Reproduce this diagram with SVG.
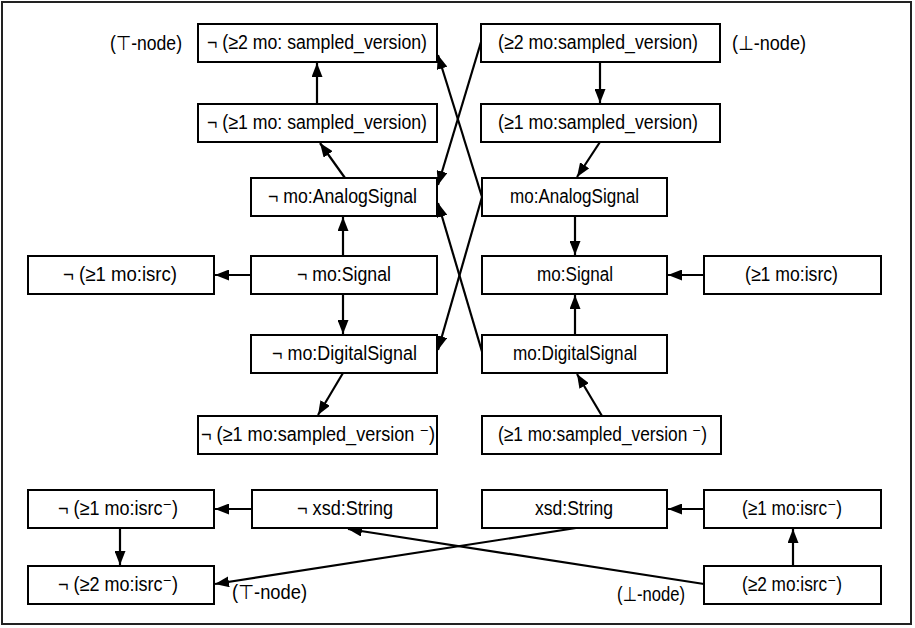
<svg xmlns="http://www.w3.org/2000/svg" width="915" height="628" viewBox="0 0 915 628">
<style>
  .box { fill: #ffffff; stroke: #000000; stroke-width: 2; }
  .t { font-family: "Liberation Sans", "DejaVu Sans", Arial, sans-serif; font-size: 20px; fill: #000000; text-anchor: middle; }
  .e { stroke: #000000; stroke-width: 2.2; fill: none; marker-end: url(#arr); }
</style>
<defs>
  <marker id="arr" markerUnits="userSpaceOnUse" markerWidth="14" markerHeight="11" refX="14" refY="5.5" orient="auto">
    <path d="M0,0 L14,5.5 L0,11 Z" fill="#000000"/>
  </marker>
</defs>
<rect x="0" y="0" width="915" height="628" fill="#ffffff"/>
<rect x="2" y="2" width="909" height="622" fill="none" stroke="#222222" stroke-width="2"/>

<g id="connectors">
  <line class="e" x1="317" y1="104" x2="317" y2="63"/>
  <line class="e" x1="345" y1="178" x2="320" y2="143"/>
  <line class="e" x1="481" y1="42" x2="438" y2="185"/>
  <line class="e" x1="482" y1="197" x2="438" y2="55"/>
  <line class="e" x1="482" y1="197" x2="438" y2="350"/>
  <line class="e" x1="483" y1="355" x2="438" y2="203"/>
  <line class="e" x1="343" y1="256" x2="343" y2="217"/>
  <line class="e" x1="251" y1="275" x2="215" y2="275"/>
  <line class="e" x1="343" y1="294" x2="343" y2="334"/>
  <line class="e" x1="343" y1="373" x2="318" y2="415"/>
  <line class="e" x1="600" y1="62" x2="600" y2="103"/>
  <line class="e" x1="600" y1="142" x2="577" y2="177"/>
  <line class="e" x1="575" y1="216" x2="575" y2="255"/>
  <line class="e" x1="704" y1="275" x2="668" y2="275"/>
  <line class="e" x1="575" y1="335" x2="575" y2="295"/>
  <line class="e" x1="602" y1="416" x2="577" y2="374"/>
  <line class="e" x1="252" y1="509" x2="215" y2="509"/>
  <line class="e" x1="120" y1="528" x2="120" y2="565"/>
  <line class="e" x1="576" y1="528" x2="215" y2="584"/>
  <line class="e" x1="704" y1="584" x2="348" y2="529"/>
  <line class="e" x1="704" y1="509" x2="668" y2="509"/>
  <line class="e" x1="793" y1="566" x2="793" y2="529"/>
</g>

<g id="n1"><rect class="box" x="198" y="24" width="239" height="38"/><text class="t" x="317" y="49" textLength="220" lengthAdjust="spacingAndGlyphs">¬ (≥2 mo: sampled_version)</text></g>
<g id="n2"><rect class="box" x="198" y="104" width="239" height="38"/><text class="t" x="317" y="129" textLength="220" lengthAdjust="spacingAndGlyphs">¬ (≥1 mo: sampled_version)</text></g>
<g id="n3"><rect class="box" x="481" y="24" width="239" height="38"/><text class="t" x="598" y="49" textLength="200" lengthAdjust="spacingAndGlyphs">(≥2 mo:sampled_version)</text></g>
<g id="n4"><rect class="box" x="481" y="104" width="239" height="38"/><text class="t" x="598" y="129" textLength="200" lengthAdjust="spacingAndGlyphs">(≥1 mo:sampled_version)</text></g>
<g id="n5"><rect class="box" x="251" y="178" width="186" height="38"/><text class="t" x="342.5" y="203" textLength="149" lengthAdjust="spacingAndGlyphs">¬ mo:AnalogSignal</text></g>
<g id="n6"><rect class="box" x="482" y="178" width="185" height="38"/><text class="t" x="574.5" y="203" textLength="129" lengthAdjust="spacingAndGlyphs">mo:AnalogSignal</text></g>
<g id="n7"><rect class="box" x="28" y="256" width="186" height="38"/><text class="t" x="120" y="281" textLength="114" lengthAdjust="spacingAndGlyphs">¬ (≥1 mo:isrc)</text></g>
<g id="n8"><rect class="box" x="251" y="256" width="186" height="38"/><text class="t" x="344" y="281" textLength="94" lengthAdjust="spacingAndGlyphs">¬ mo:Signal</text></g>
<g id="n9"><rect class="box" x="482" y="256" width="185" height="38"/><text class="t" x="575" y="281" textLength="76" lengthAdjust="spacingAndGlyphs">mo:Signal</text></g>
<g id="n10"><rect class="box" x="704" y="256" width="177" height="38"/><text class="t" x="791.5" y="281" textLength="93" lengthAdjust="spacingAndGlyphs">(≥1 mo:isrc)</text></g>
<g id="n11"><rect class="box" x="251" y="335" width="186" height="38"/><text class="t" x="344.5" y="360" textLength="145" lengthAdjust="spacingAndGlyphs">¬ mo:DigitalSignal</text></g>
<g id="n12"><rect class="box" x="482" y="335" width="185" height="38"/><text class="t" x="575" y="360" textLength="124" lengthAdjust="spacingAndGlyphs">mo:DigitalSignal</text></g>
<g id="n13"><rect class="box" x="198" y="416" width="239" height="38"/><text class="t" x="318" y="441" textLength="234" lengthAdjust="spacingAndGlyphs">¬ (≥1 mo:sampled_version ⁻)</text></g>
<g id="n14"><rect class="box" x="482" y="416" width="239" height="38"/><text class="t" x="602.5" y="441" textLength="209" lengthAdjust="spacingAndGlyphs">(≥1 mo:sampled_version ⁻)</text></g>
<g id="n15"><rect class="box" x="28" y="490" width="186" height="38"/><text class="t" x="118" y="515" textLength="120" lengthAdjust="spacingAndGlyphs">¬ (≥1 mo:isrc⁻)</text></g>
<g id="n16"><rect class="box" x="252" y="490" width="185" height="38"/><text class="t" x="345" y="515" textLength="96" lengthAdjust="spacingAndGlyphs">¬ xsd:String</text></g>
<g id="n17"><rect class="box" x="28" y="566" width="186" height="38"/><text class="t" x="118" y="591" textLength="120" lengthAdjust="spacingAndGlyphs">¬ (≥2 mo:isrc⁻)</text></g>
<g id="n18"><rect class="box" x="482" y="490" width="185" height="38"/><text class="t" x="574" y="515" textLength="78" lengthAdjust="spacingAndGlyphs">xsd:String</text></g>
<g id="n19"><rect class="box" x="704" y="490" width="177" height="38"/><text class="t" x="792" y="515" textLength="100" lengthAdjust="spacingAndGlyphs">(≥1 mo:isrc⁻)</text></g>
<g id="n20"><rect class="box" x="704" y="566" width="177" height="38"/><text class="t" x="792" y="591" textLength="100" lengthAdjust="spacingAndGlyphs">(≥2 mo:isrc⁻)</text></g>

<g id="labels">
  <text class="t" x="146" y="50" textLength="72" lengthAdjust="spacingAndGlyphs">(⊤-node)</text>
  <text class="t" x="769" y="50" textLength="74" lengthAdjust="spacingAndGlyphs">(⊥-node)</text>
  <text class="t" x="269.5" y="599" textLength="75" lengthAdjust="spacingAndGlyphs">(⊤-node)</text>
  <text class="t" x="651" y="601" textLength="68" lengthAdjust="spacingAndGlyphs">(⊥-node)</text>
</g>
</svg>
